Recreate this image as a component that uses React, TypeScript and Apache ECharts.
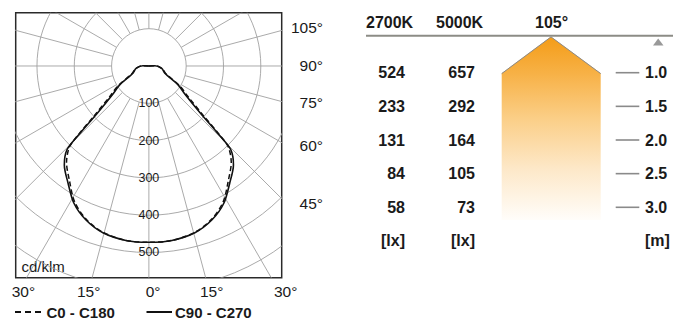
import React, { useEffect, useRef } from "react";
import * as echarts from "echarts";

// ---- Photometric data (gamma angle in degrees from nadir, intensity in cd/klm)
const GAMMA = [0, 7.5, 15.4, 22.3, 28.7, 34.7, 40.5, 42.7, 44.3, 45, 45.9, 47.6, 52.1, 57, 65.5, 79.7, 92.9, 180];
const I_C0_C180 = [473, 472, 463, 444, 415, 374, 340, 322, 306, 292, 258, 200, 132, 100, 50, 35, 16, 0];
const I_C90_C270 = [473, 472, 464, 446, 419, 381, 349, 332, 315, 296, 246, 185, 122, 94, 47, 35, 16, 0];

// ---- Polar grid
const RINGS = [100, 200, 300, 400, 500, 600, 700];
const RING_LABELS = [100, 200, 300, 400, 500];
const RADIAL_ANGLES = [0, 15, 30, 45, 60, 75, 90, 105, 120, 135, 150, 165, 180, 195, 210, 225, 240, 255, 270, 285, 300, 315, 330, 345];
const SIDE_ANGLE_LABELS = ["105°", "90°", "75°", "60°", "45°"];
const BOTTOM_ANGLE_LABELS = ["30°", "15°", "0°", "15°", "30°"];
const UNIT_LABEL = "cd/klm";
const LEGEND_NAMES = ["C0 - C180", "C90 - C270"];

// ---- Illuminance table
const HEADERS = ["2700K", "5000K", "105°"];
const DISTANCES = [1.0, 1.5, 2.0, 2.5, 3.0];
const LUX_2700K = [524, 233, 131, 84, 58];
const LUX_5000K = [657, 292, 164, 105, 73];
const UNITS = ["[lx]", "[lx]", "[m]"];

const FONT = "'Liberation Sans', Arial, Helvetica, sans-serif";
const TXT = "#1a1a1a";
const GRID_COLOR = "#a0a0a0";

function toXY(g: number, I: number, side: number): number[] {
  const a = (g * Math.PI) / 180;
  return [side * I * Math.sin(a), -I * Math.cos(a)];
}

function loop(I: number[]): number[][] {
  const pts: number[][] = [];
  for (let i = GAMMA.length - 1; i >= 0; i--) pts.push(toXY(GAMMA[i], I[i], -1));
  for (let i = 1; i < GAMMA.length; i++) pts.push(toXY(GAMMA[i], I[i], 1));
  return pts;
}

function txt(text: string, x: number, y: number, size: number, align: string, weight = "normal", fill = TXT) {
  return {
    type: "text",
    x,
    y,
    silent: true,
    style: {
      text,
      fill,
      fontSize: size,
      fontFamily: FONT,
      fontWeight: weight,
      font: `${weight} ${size}px ${FONT}`,
      textAlign: align,
      align,
      textVerticalAlign: "middle",
      verticalAlign: "middle",
    },
  };
}

export default function App() {
  const ref = useRef<HTMLDivElement>(null);

  useEffect(() => {
    if (!ref.current) return;
    const chart = echarts.init(ref.current, undefined, { renderer: "svg" });

    const sideYs = [27.5, 65.3, 102, 145, 203.5];
    const bottomXs = [11.7, 77, 145.7, 200, 274];

    const graphics: any[] = [];
    SIDE_ANGLE_LABELS.forEach((t, i) => graphics.push(txt(t, 323, sideYs[i], 15.5, "right")));
    BOTTOM_ANGLE_LABELS.forEach((t, i) => graphics.push(txt(t, bottomXs[i], 291, 15.5, "left")));
    graphics.push(txt(UNIT_LABEL, 21.5, 266.5, 15, "left"));

    // legend
    graphics.push({
      type: "line",
      silent: true,
      shape: { x1: 15, y1: 312, x2: 42, y2: 312 },
      style: { stroke: "#111", lineWidth: 2, lineDash: [6, 4] },
    });
    graphics.push(txt(LEGEND_NAMES[0], 46.5, 312.5, 15, "left", "bold"));
    graphics.push({
      type: "line",
      silent: true,
      shape: { x1: 146.5, y1: 312, x2: 172, y2: 312 },
      style: { stroke: "#111", lineWidth: 2 },
    });
    graphics.push(txt(LEGEND_NAMES[1], 175, 312.5, 15, "left", "bold"));

    // table header
    const headerXs = [366, 436, 535];
    HEADERS.forEach((h, i) => graphics.push(txt(h, headerXs[i], 22, 16, "left", "bold")));
    graphics.push({
      type: "line",
      silent: true,
      shape: { x1: 366, y1: 35.7, x2: 673, y2: 35.7 },
      style: { stroke: "#8c8c86", lineWidth: 2 },
    });
    graphics.push({
      type: "polygon",
      silent: true,
      shape: { points: [[653, 45.5], [663.5, 45.5], [658.2, 38.5]] },
      style: { fill: "#999" },
    });
    // light cone
    graphics.push({
      type: "polygon",
      silent: true,
      shape: {
        points: [[551, 36.7], [600.7, 73.3], [600.7, 220], [501.7, 220], [501.7, 73.3]],
      },
      style: {
        fill: new echarts.graphic.LinearGradient(0, 0, 0, 1, [
          { offset: 0, color: "#F49C17" },
          { offset: 0.2, color: "#F7B146" },
          { offset: 0.45, color: "#FBCF88" },
          { offset: 0.72, color: "#FDE8C8" },
          { offset: 1, color: "#FFFDFA" },
        ]),
      },
    });
    graphics.push({
      type: "polyline",
      silent: true,
      shape: { points: [[501.7, 73.6], [551, 36.9], [600.7, 73.6]] },
      style: { stroke: "#8a8a8a", lineWidth: 1, fill: "none" },
    });

    const option: any = {
      animation: false,
      grid: [
        {
          left: 15.7,
          top: 12.7,
          width: 266,
          height: 265,
          show: true,
          borderColor: "#2a2a2a",
          borderWidth: 1.5,
          backgroundColor: "transparent",
        },
        { left: 330, top: 39.05, width: 343, height: 201.9, show: false },
      ],
      xAxis: [
        { type: "value", gridIndex: 0, min: -357, max: 356, show: false },
        { type: "value", gridIndex: 1, min: 330, max: 673, show: false },
      ],
      yAxis: [
        { type: "value", gridIndex: 0, min: -568, max: 143, show: false },
        { type: "value", gridIndex: 1, min: 0.5, max: 3.5, inverse: true, show: false },
      ],
      graphic: { elements: graphics },
      series: [
        {
          type: "custom",
          xAxisIndex: 0,
          yAxisIndex: 0,
          clip: true,
          silent: true,
          z: 1,
          encode: { x: 0, y: 1 },
          data: RINGS.map((r) => [0, 0, r]),
          renderItem: (params: any, api: any) => {
            const c = api.coord([0, 0]);
            const rr = api.size([api.value(2), 0])[0];
            return {
              type: "circle",
              shape: { cx: c[0], cy: c[1], r: rr },
              style: { fill: "none", stroke: GRID_COLOR, lineWidth: 0.9 },
            };
          },
        },
        {
          type: "custom",
          xAxisIndex: 0,
          yAxisIndex: 0,
          clip: true,
          silent: true,
          z: 1,
          encode: { x: 0, y: 1 },
          data: RADIAL_ANGLES.map((a) => [0, 0, a]),
          renderItem: (params: any, api: any) => {
            const a = api.value(2);
            const p1 = api.coord(toXY(a, RINGS[0], 1));
            const p2 = api.coord(toXY(a, 1200, 1));
            return {
              type: "line",
              shape: { x1: p1[0], y1: p1[1], x2: p2[0], y2: p2[1] },
              style: { stroke: GRID_COLOR, lineWidth: 0.9 },
            };
          },
        },
        {
          type: "custom",
          xAxisIndex: 0,
          yAxisIndex: 0,
          silent: true,
          z: 4,
          encode: { x: 0, y: 1 },
          data: RING_LABELS.map((r) => [0, -r, r]),
          renderItem: (params: any, api: any) => {
            const p = api.coord([api.value(0), api.value(1)]);
            return {
              type: "text",
              x: p[0],
              y: p[1],
              style: {
                text: String(api.value(2)),
                fill: TXT,
                font: `12.5px ${FONT}`,
                fontSize: 12.5,
                fontFamily: FONT,
                textAlign: "center",
                align: "center",
                textVerticalAlign: "middle",
                verticalAlign: "middle",
              },
            };
          },
        },
        {
          name: LEGEND_NAMES[0],
          type: "line",
          xAxisIndex: 0,
          yAxisIndex: 0,
          z: 5,
          data: loop(I_C0_C180),
          symbol: "none",
          showSymbol: false,
          smooth: 0.3,
          lineStyle: { color: "#111", width: 1.5, type: [5, 3] },
        },
        {
          name: LEGEND_NAMES[1],
          type: "line",
          xAxisIndex: 0,
          yAxisIndex: 0,
          z: 6,
          data: loop(I_C90_C270),
          symbol: "none",
          showSymbol: false,
          smooth: 0.3,
          lineStyle: { color: "#111", width: 1.6 },
        },
        {
          type: "custom",
          xAxisIndex: 1,
          yAxisIndex: 1,
          silent: true,
          encode: { x: 0, y: 1 },
          data: DISTANCES.map((d, i) => [500, d, LUX_2700K[i], LUX_5000K[i]]),
          renderItem: (params: any, api: any) => {
            const y = api.coord([500, api.value(1)])[1];
            const mk = (t: string, x: number, align: string) => ({
              type: "text",
              x,
              y,
              style: {
                text: t,
                fill: TXT,
                font: `bold 16px ${FONT}`,
                fontSize: 16,
                fontWeight: "bold",
                fontFamily: FONT,
                textAlign: align,
                align,
                textVerticalAlign: "middle",
                verticalAlign: "middle",
              },
            });
            return {
              type: "group",
              children: [
                mk(String(api.value(2)), 405, "right"),
                mk(String(api.value(3)), 475, "right"),
                {
                  type: "line",
                  shape: { x1: 615.7, y1: y, x2: 639.3, y2: y },
                  style: { stroke: "#8a8a8a", lineWidth: 1.6 },
                },
                mk(Number(api.value(1)).toFixed(1), 645, "left"),
              ],
            };
          },
        },
        {
          type: "custom",
          xAxisIndex: 1,
          yAxisIndex: 1,
          silent: true,
          encode: { x: 0, y: 1 },
          data: [[500, 3.5]],
          renderItem: (params: any, api: any) => {
            const y = api.coord([500, api.value(1)])[1];
            const pos = [
              { x: 405, align: "right" },
              { x: 475, align: "right" },
              { x: 645, align: "left" },
            ];
            return {
              type: "group",
              children: UNITS.map((u, i) => ({
                type: "text",
                x: pos[i].x,
                y,
                style: {
                  text: u,
                  fill: TXT,
                  font: `bold 16px ${FONT}`,
                  fontSize: 16,
                  fontWeight: "bold",
                  fontFamily: FONT,
                  textAlign: pos[i].align,
                  align: pos[i].align,
                  textVerticalAlign: "middle",
                  verticalAlign: "middle",
                },
              })),
            };
          },
        },
      ],
    };

    chart.setOption(option);
    return () => chart.dispose();
  }, []);

  return (
    <div
      ref={ref}
      style={{ position: "fixed", left: 0, top: 0, width: 673, height: 321, background: "#fff" }}
    />
  );
}
